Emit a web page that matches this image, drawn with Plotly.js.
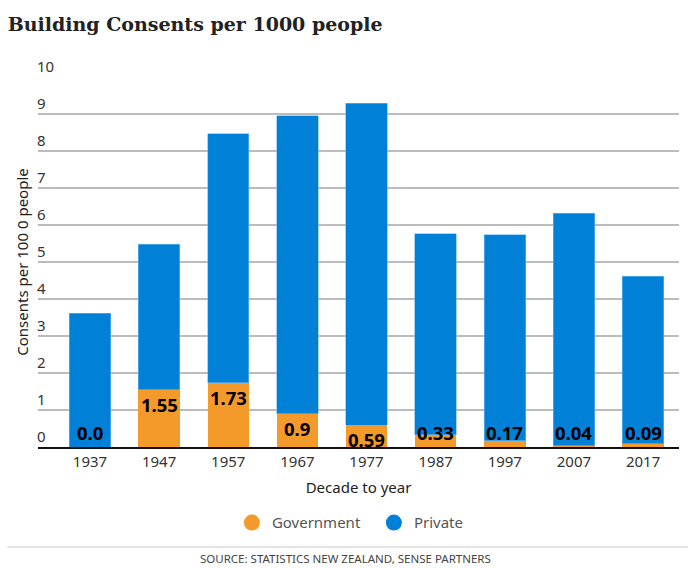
<!DOCTYPE html>
<html>
<head>
<meta charset="utf-8">
<script src="https://cdn.plot.ly/plotly-3.0.1.min.js"></script>
<style>
html,body{margin:0;padding:0;background:#fff;}
#chart{width:694px;height:568px;}
</style>
</head>
<body>
<div id="chart"></div>
<script>
// Data
const decades = ["1937","1947","1957","1967","1977","1987","1997","2007","2017"];
const government = [0.0, 1.55, 1.73, 0.9, 0.59, 0.33, 0.17, 0.04, 0.09];
const governmentLabels = ["0.0","1.55","1.73","0.9","0.59","0.33","0.17","0.04","0.09"];
const privateVals = [3.61, 3.93, 6.74, 8.05, 8.70, 5.43, 5.56, 6.28, 4.53];
const yTicks = [0,1,2,3,4,5,6,7,8,9,10];

const orange = "#f39a2b";
const blue = "#0080d6";
const font = "Noto Sans, Open Sans, sans-serif";

const traces = [
  {type:"bar", name:"Government", x:decades, y:government, marker:{color:orange, line:{width:0}}, showlegend:false, hoverinfo:"x+y"},
  {type:"bar", name:"Private", x:decades, y:privateVals, marker:{color:blue, line:{width:0.6, color:"#6fb8ee"}}, showlegend:false, hoverinfo:"x+y"},
  {type:"scatter", mode:"markers", name:"Government", x:[null], y:[null], marker:{color:orange, size:16, symbol:"circle"}},
  {type:"scatter", mode:"markers", name:"Private", x:[null], y:[null], marker:{color:blue, size:16, symbol:"circle"}}
];

const annotations = decades.map((d,i)=>{
  const v = government[i];
  const big = v >= 0.5;
  return {
    x:i, y: big ? v : 0, xref:"x", yref:"y",
    text:"<b>"+governmentLabels[i]+"</b>",
    showarrow:false,
    yanchor: big ? "top" : "bottom",
    xanchor:"center",
    font:{family:font, size:18.5, color:"#000"}
  };
});

annotations.push({
  text:"SOURCE: STATISTICS NEW ZEALAND, SENSE PARTNERS",
  xref:"paper", yref:"paper", x:0.48, y:-0.30, xanchor:"center", yanchor:"middle",
  showarrow:false, font:{family:font, size:11.5, color:"#444"}
});

const layout = {
  width:694, height:568,
  margin:{l:38, r:15, t:77, b:121},
  paper_bgcolor:"#fff", plot_bgcolor:"#fff",
  barmode:"stack", bargap:0.4,
  title:{text:"<b>Building Consents per 1000 people</b>", x:0.011, xref:"container", xanchor:"left",
    y:0.958, yref:"container", yanchor:"middle",
    font:{family:"DejaVu Serif, serif", size:19, color:"#222"}},
  xaxis:{
    type:"category", range:[-0.752, 8.52],
    showgrid:false, zeroline:false,
    showline:true, linecolor:"#111", linewidth:2,
    ticks:"", tickfont:{family:font, size:15, color:"#333"},
    title:{text:"Decade to year", font:{family:font, size:15, color:"#222"}, standoff:12}
  },
  yaxis:{
    range:[0,10], tickvals:yTicks, ticktext:yTicks.map(String),
    ticklabelposition:"inside top", ticklabeloverflow:"allow", ticklabelstandoff:-4,
    showgrid:true, gridcolor:"#bcbcbc", gridwidth:1.5,
    zeroline:false, showline:false, ticks:"",
    tickfont:{family:font, size:15, color:"#333"},
    title:{text:"Consents per 100 0 people", font:{family:font, size:15, color:"#222"}, standoff:4}
  },
  legend:{orientation:"h", traceorder:"normal", x:0.524, xanchor:"center", y:-0.205, yanchor:"middle",
    entrywidth:97, entrywidthmode:"pixels",
    font:{family:font, size:15, color:"#555"}},
  shapes:[{type:"line", xref:"paper", yref:"paper", x0:-0.048, x1:1.014, y0:-0.27, y1:-0.27,
    line:{color:"#e3e3e3", width:2}}],
  annotations:annotations,
  showlegend:true
};

Plotly.newPlot("chart", traces, layout, {displayModeBar:false, staticPlot:true});
</script>
</body>
</html>
